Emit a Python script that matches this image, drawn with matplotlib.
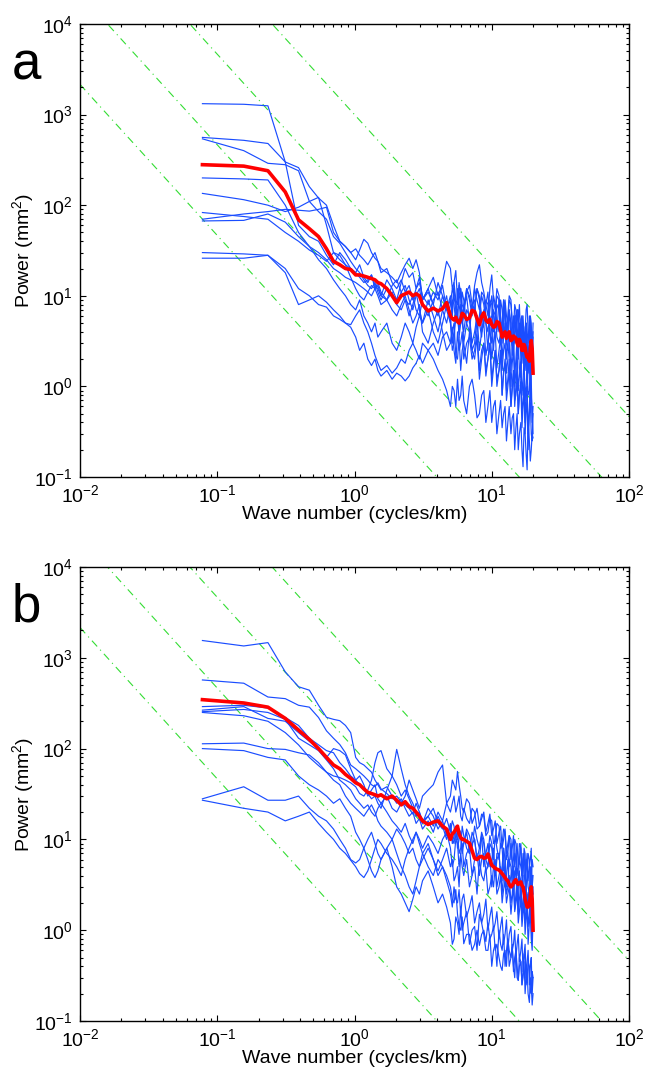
import numpy as np
import matplotlib
matplotlib.use("Agg")
import matplotlib.pyplot as plt

plt.rcParams['font.family'] = ['Liberation Sans', 'DejaVu Sans']
plt.rcParams['mathtext.fontset'] = 'custom'
plt.rcParams['mathtext.rm'] = 'Liberation Sans'
plt.rcParams['mathtext.it'] = 'Liberation Sans:italic'
plt.rcParams['mathtext.bf'] = 'Liberation Sans:bold'

# ---------------- data ----------------
wavenumber = [0.078, 0.156, 0.234, 0.313, 0.391, 0.469, 0.547, 0.625, 0.703, 0.781,
              0.859, 0.938, 1.02, 1.09, 1.17, 1.25, 1.33, 1.41, 1.48, 1.56,
              1.72, 1.88, 2.03, 2.19, 2.34, 2.5, 2.66, 2.81, 2.97, 3.13,
              3.44, 3.75, 4.06, 4.38, 4.69, 5.0, 5.31, 5.63, 5.94, 6.25,
              6.88, 7.5, 8.13, 8.75, 9.38, 10.0, 10.6, 11.3, 11.9, 12.5,
              13.1, 13.8, 14.4, 15.0, 15.6, 16.3, 16.9, 17.5, 18.1, 18.8,
              19.4, 20.0]
# extra high-wavenumber samples (between the points above, k >= 5)
wavenumber_mid = [5.16, 5.47, 5.78, 6.09, 6.56, 7.19, 7.81, 8.44, 9.06, 9.69,
                  10.3, 10.9, 11.6, 12.2, 12.8, 13.4, 14.1, 14.7, 15.3, 15.9,
                  16.6, 17.2, 17.8, 18.4, 19.1, 19.7]

# ---- panel a ----
mean_a = [280, 270, 240, 140, 69, 55, 45, 33, 24, 22,
          20, 19.5, 17, 17, 16.5, 16, 15.5, 15, 14, 13.6,
          12, 10, 8.4, 10, 10.5, 11, 10, 10.5, 10, 8,
          6.8, 7.3, 6.8, 7.2, 8.4, 6, 5.4, 5.2, 5.5, 6.2,
          5.7, 6.7, 4.8, 6.5, 5.1, 4.8, 4.6, 5, 3.5, 4,
          3.8, 3.2, 3.6, 3.4, 2.8, 3, 2.5, 2.7, 2.1, 1.9,
          3.2, 1.4]
mean_a_mid = [5.6, 5.8, 5, 6.4, 5.5, 6.9, 5.6, 5.9, 5.4, 5.5,
              4.5, 5.2, 4.2, 3.8, 3.4, 4, 3.3, 3.5, 3.0, 3.3,
              2.5, 2.9, 2.3, 2.2, 2.6, 2.6]

a1 = [1320, 1300, 1250, 300, 60, 45, 40, 28, 22, 30,
      25, 20, 18, 22, 16, 14, 17, 12, 13, 10,
      15, 12, 9, 14, 20, 16, 18, 12, 16, 9,
      12, 8, 14, 10, 7, 9, 12, 6, 10, 8,
      13, 7, 9, 5, 11, 6, 8, 4, 7, 9,
      5, 3.5, 6, 4, 7, 3, 5, 2.5, 4, 6,
      3, 5]
a1_mid = [6, 8, 14, 5, 11, 8, 12, 4, 8, 5, 10, 5, 9, 4, 6, 7, 2.8, 4.5, 7, 4,
          6, 2.2, 5, 3, 4, 2.5]
a2 = [560, 520, 480, 300, 260, 160, 120, 100, 60, 40,
      35, 30, 33, 28, 25, 22, 26, 30, 24, 18,
      20, 14, 12, 15, 11, 13, 9, 12, 14, 10,
      8, 11, 9, 13, 7, 10, 14, 8, 11, 6,
      9, 12, 7, 10, 5, 8, 6, 9, 4, 7,
      5, 8, 3.5, 6, 4, 5.5, 3, 4.5, 2.5, 4,
      3, 3.5]
a2_mid = [7, 9, 13, 5, 12, 6, 9, 11, 6, 9, 4, 10, 5, 7, 3.5, 9, 5, 3, 7, 3,
          6, 2.5, 5, 2, 4.5, 2.2]
a3 = [540, 400, 290, 280, 240, 110, 85, 70, 45, 38,
      30, 24, 20, 18, 15, 13, 12, 14, 11, 9,
      12, 10, 8, 11, 13, 9, 7, 10, 12, 8,
      6, 9, 11, 7, 5, 8, 10, 6, 12, 7,
      5, 9, 6, 8, 4, 10, 5, 7, 3, 6,
      4, 5, 2.5, 5, 3.5, 2, 4, 2.8, 1.5, 3,
      2, 2.5]
a3_mid = [12, 7, 9, 5, 10, 8, 4, 10, 5, 7, 6, 8, 4, 9, 3, 7, 3, 4, 2.2, 5,
          3, 1.8, 4, 2, 1.4, 3.5]
a4 = [200, 195, 190, 100, 50, 35, 30, 25, 20, 18,
      16, 15, 14, 13, 12, 11, 10, 12, 14, 11,
      9, 13, 15, 11, 9, 8, 10, 7, 6, 9,
      11, 8, 6, 10, 7, 5, 8, 12, 6, 9,
      4, 7, 10, 5, 8, 3, 6, 9, 4, 7,
      2.5, 5, 3, 6, 2, 4, 3, 1.5, 3.5, 2,
      4, 2.5]
a4_mid = [9, 5, 8, 11, 5, 8, 12, 6, 9, 4, 7, 4, 6, 8, 3, 6, 2.2, 6, 3, 4.5,
          1.8, 4, 2.5, 1.4, 5, 1.8]
a5 = [135, 115, 100, 85, 95, 110, 122, 60, 30, 25,
      22, 20, 18, 16, 14, 15, 17, 13, 12, 10,
      9, 11, 8, 7, 9, 6, 8, 11, 7, 5,
      9, 6, 4, 7, 10, 5, 3, 6, 8, 4,
      6, 3, 5, 7, 2.5, 4, 6, 3, 2, 5,
      3, 1.5, 4, 2, 3, 1.2, 2.5, 1.8, 1, 2.2,
      1.5, 2]
a5_mid = [2.5, 7, 4, 5, 7, 2.5, 6, 3.5, 5, 6, 2.5, 3.5, 4, 3.5, 2, 4, 2.5, 1.3, 3.5, 1.6,
          3, 1.4, 2.8, 1.5, 0.7, 2.5]
a6 = [83, 75, 70, 50, 40, 32, 28, 24, 30, 28,
      22, 16, 12, 10, 9, 11, 13, 12, 10, 8,
      9, 7, 6, 8, 10, 7, 5, 6, 8, 4,
      3, 5, 7, 4, 2.5, 3, 5, 2, 1.5, 3,
      4, 2, 1.2, 3, 2, 1, 2.5, 1.5, 0.8, 2,
      1.2, 0.6, 1.5, 1, 0.5, 1.2, 0.7, 0.4, 1, 0.6,
      0.8, 0.3]
a6_mid = [4, 2.2, 3.5, 2.5, 1.8, 2.5, 3.5, 2, 1.3, 3, 1.6, 1, 2.5, 1.4, 0.9, 2, 0.9, 0.6, 1.8, 0.8,
          0.5, 1.3, 0.8, 0.3, 1.1, 0.5]
a7 = [70, 80, 85, 90, 88, 86, 90, 95, 50, 40,
      35, 30, 25, 32, 42, 38, 30, 26, 24, 20,
      18, 16, 14, 18, 22, 26, 20, 25, 18, 9,
      12, 16, 10, 14, 24, 20, 14, 9, 12, 7,
      10, 13, 22, 11, 6, 17, 7, 10, 5, 8,
      6, 9, 4, 7, 5, 3, 6, 4, 8, 3,
      5, 4]
a7_mid = [12, 19, 10, 8, 12, 7, 18, 14, 8, 12, 9, 12, 5, 9, 4, 10, 5, 8, 3, 8,
          4, 3, 7, 4, 6, 2.5]
a8 = [67, 68, 80, 65, 45, 35, 25, 20, 15, 12,
      10, 8, 7, 9, 6, 5, 4, 5, 3.5, 4,
      5, 3, 2.5, 3.5, 5, 4, 3, 4.5, 6, 5,
      7, 4, 3, 5, 8, 6, 4, 7, 5, 3,
      6, 4, 2.5, 5, 3, 2, 4, 2.5, 1.5, 3,
      2, 1, 2.5, 1.5, 0.9, 2, 1.2, 0.7, 1.6, 0.9,
      1.2, 0.6]
a8_mid = [3, 6, 3.5, 7, 5, 3, 6, 4, 2.2, 4.5, 3, 1.6, 3.5, 2.5, 1.4, 3, 1.8, 1, 2.5, 1.3,
          0.8, 2, 1, 0.8, 1.8, 0.4]
a9 = [30, 29, 28, 18, 8, 9, 10, 8.5, 7, 6,
      5, 4.5, 3.5, 2.5, 3, 2, 1.7, 2, 1.5, 1.3,
      1.5, 1.2, 1.4, 1.3, 1.15, 1.3, 1.6, 1.8, 2.2, 1.8,
      2.5, 3, 2.2, 3.5, 4, 3, 2.5, 4, 3, 2,
      3.5, 2.5, 1.5, 3, 2, 1.2, 2.5, 1.5, 0.8, 1.8,
      1, 0.6, 1.4, 0.8, 0.5, 1, 0.6, 0.3, 0.8, 0.5,
      0.3, 0.5]
a9_mid = [4.5, 1.8, 2.5, 4, 3, 2, 4, 2.5, 1.5, 3, 1.8, 1.2, 2.5, 1.5, 0.7, 1.5, 1.1, 0.7, 1.2, 0.8,
          0.35, 0.9, 0.5, 0.2, 0.7, 0.25]
a10 = [26, 26, 28, 20, 12, 10, 8, 7.5, 6, 5.5,
       5, 4.8, 6, 7, 5, 4, 3, 2.2, 1.8, 1.5,
       1.7, 1.4, 1.6, 2, 1.8, 2.5, 3, 2.5, 2, 3,
       2.5, 2, 1.5, 1.2, 0.9, 0.6, 0.9, 1.2, 0.8, 0.7,
       1, 0.8, 0.5, 0.9, 0.6, 0.4, 0.7, 0.5, 0.35, 0.6,
       0.4, 0.3, 0.5, 0.35, 0.2, 0.4, 0.13, 0.3, 0.12, 0.25,
       0.2, 0.27]
a10_mid = [1, 0.6, 0.7, 1.3, 0.5, 1.2, 0.45, 0.8, 0.4, 0.9, 0.6, 0.3, 0.7, 0.5, 0.25, 0.6, 0.45, 0.2, 0.5, 0.3,
           0.2, 0.35, 0.18, 0.4, 0.15, 0.3]

# ---- panel b ----
mean_b = [346, 318, 286, 215, 160, 126, 100, 80, 66, 60,
          52, 47, 42, 40, 36, 33, 32, 31, 30, 31,
          28, 30, 27, 24, 26, 23, 22, 20, 18, 16,
          14.6, 15.5, 16, 14, 13, 10, 12, 14, 10.5, 10,
          9.1, 6.2, 6.4, 6.2, 6.9, 5.2, 4.8, 4.6, 4.2, 3.8,
          3.5, 3, 3.3, 3.6, 3.2, 3.4, 3, 2.2, 1.8, 1.9,
          3, 1.0]
mean_b_mid = [11.5, 13, 11.5, 10, 9.5, 7.5, 6.0, 6.5, 6.3, 6.0,
              5.0, 4.7, 4.4, 4.0, 3.6, 3.2, 3.1, 3.5, 3.3, 3.3,
              3.1, 2.6, 2.0, 1.8, 2.4, 2.2]

b1 = [1550, 1350, 1470, 700, 480, 440, 300, 221, 210, 203,
      180, 150, 80, 70, 66, 60, 55, 45, 40, 35,
      38, 30, 25, 28, 22, 18, 20, 15, 17, 13,
      16, 12, 18, 14, 10, 15, 11, 8, 12, 9,
      7, 10, 8, 5, 9, 6, 4, 7, 5, 3,
      6, 4, 2.5, 5, 3, 2, 4, 2.5, 1.5, 3,
      2, 2.5]
b1_mid = [9, 14, 10, 7, 12, 9, 6, 11, 7, 5, 8, 6, 4, 8, 4, 3, 5, 4, 2.2, 4.5,
          3, 1.8, 3.5, 2.2, 1.6, 3]
b2 = [570, 525, 370, 355, 300, 286, 220, 157, 130, 111,
      90, 66, 60, 55, 50, 45, 40, 38, 42, 36,
      32, 28, 30, 26, 24, 22, 19, 25, 20, 16,
      18, 22, 15, 13, 17, 12, 14, 10, 12, 9,
      11, 14, 8, 10, 7, 9, 11, 6, 8, 5,
      7, 9, 4, 6, 3.5, 5, 7, 3, 4.5, 2.5,
      4, 3]
b2_mid = [16, 10, 13, 8, 13, 8, 10, 12, 6, 11, 6, 8, 9, 4.5, 8, 5, 6, 7, 3, 6,
          4, 4.5, 6, 3, 5, 2]
b3 = [290, 300, 280, 220, 180, 130, 110, 95, 90, 70,
      60, 50, 45, 40, 35, 32, 28, 30, 25, 22,
      35, 50, 98, 60, 40, 30, 25, 20, 18, 15,
      22, 18, 13, 16, 11, 14, 9, 12, 8, 11,
      7, 10, 6, 9, 5, 8, 4, 7, 3.5, 6,
      3, 5, 2.5, 4, 2, 3.5, 1.8, 3, 1.5, 2.5,
      1.2, 2]
b3_mid = [10, 13, 7, 14, 8, 12, 6, 11, 6, 9, 5, 7, 4, 8, 3, 6, 3, 4.5, 2.2, 4,
          2, 3, 1.6, 2.6, 1.3, 2.4]
b4 = [265, 290, 215, 200, 150, 120, 100, 80, 100, 95,
      85, 60, 45, 50, 40, 30, 35, 40, 28, 25,
      30, 22, 20, 25, 30, 45, 35, 28, 22, 30,
      35, 40, 55, 66, 25, 20, 30, 24, 18, 22,
      15, 20, 14, 18, 12, 16, 10, 14, 9, 12,
      7, 10, 6, 9, 5, 8, 4, 7, 3.5, 6,
      4, 5]
b4_mid = [25, 20, 30, 16, 17, 22, 13, 19, 11, 17, 9, 15, 8, 13, 6, 11, 5, 10, 4, 9,
          3.5, 8, 3, 7, 3, 6]
b5 = [255, 270, 250, 210, 130, 110, 95, 75, 60, 45,
      40, 35, 28, 25, 22, 24, 20, 18, 22, 25,
      20, 16, 14, 12, 15, 11, 9, 12, 10, 8,
      11, 9, 7, 10, 12, 8, 6, 9, 7, 5,
      8, 6, 4, 7, 5, 3, 6, 4, 2.5, 5,
      3, 2, 4, 2.5, 1.5, 3, 2, 1.2, 2.5, 1.5,
      1, 1.8]
b5_mid = [5, 10, 5, 9, 7, 4, 7, 6, 4.5, 7, 5, 3, 5, 4, 2.5, 4, 2.5, 1.7, 3.5, 2.2,
          1.3, 2.8, 1.6, 1.1, 2.2, 0.8]
b6 = [250, 230, 200, 150, 110, 80, 65, 55, 50, 48,
      45, 42, 38, 32, 30, 35, 45, 70, 90, 95,
      60, 50, 40, 30, 35, 28, 22, 18, 20, 15,
      18, 14, 20, 16, 25, 30, 40, 56, 30, 20,
      25, 18, 14, 20, 15, 11, 16, 12, 8, 13,
      9, 6, 11, 7, 5, 9, 6, 4, 7, 5,
      8, 4]
b6_mid = [45, 35, 40, 22, 28, 15, 22, 17, 12, 19, 13, 9, 14, 10, 7, 11, 8, 5, 9, 6,
          4, 7, 5, 3.5, 6, 3]
b7 = [113, 115, 100, 98, 90, 85, 70, 55, 45, 40,
      30, 25, 22, 20, 18, 21, 24, 20, 16, 14,
      12, 10, 13, 11, 9, 7, 8, 6, 5, 7,
      9, 6, 4.5, 6, 8, 5, 3.5, 5, 7, 4,
      3, 5, 6, 3.5, 2.5, 4, 5, 3, 2, 3.5,
      2.5, 1.5, 3, 2, 1.2, 2.2, 1.5, 0.9, 1.8, 1.2,
      0.8, 1.4]
b7_mid = [6, 4, 3, 5, 6, 4, 2.5, 4, 5, 3, 3, 2.5, 4, 2.8, 2, 3, 2.2, 1.6, 2.6, 1.6,
          1.1, 2, 1.3, 0.7, 1.6, 0.6]
b8 = [100, 95, 80, 75, 50, 40, 35, 30, 25, 28,
      22, 18, 12, 10, 8, 6, 4.5, 3.8, 4.5, 6,
      8, 5, 3, 2.5, 2, 1.6, 2.2, 3, 2.5, 3.5,
      4.5, 3, 2, 2.5, 1.8, 1.2, 0.8, 1.2, 1.8, 1.2,
      0.7, 1.1, 1.5, 0.9, 0.6, 0.4, 0.7, 1, 0.6, 0.4,
      0.8, 0.5, 0.35, 0.6, 0.28, 0.45, 0.3, 0.2, 0.35, 0.16,
      0.25, 0.2]
b8_mid = [0.7, 1.4, 0.9, 1.0, 1.6, 1.0, 0.6, 1.2, 0.6, 0.9, 0.6, 0.4, 0.7, 0.9, 0.6, 0.4, 0.7, 0.5, 0.3, 0.5,
          0.25, 0.45, 0.3, 0.2, 0.3, 0.15]
b9 = [28, 38, 27, 27, 30, 22, 18, 16, 13, 10,
      8, 6, 5.5, 6, 8, 10, 12, 9, 7, 6,
      8, 10, 7, 5, 4, 3, 2.5, 3.5, 5, 6,
      8, 6, 4, 5, 3.5, 2.5, 3, 2, 1.5, 2.5,
      1.8, 1.2, 2, 1.5, 1, 1.8, 1.2, 0.8, 1.4, 0.9,
      0.6, 1.1, 0.7, 0.5, 0.9, 0.6, 0.35, 0.7, 0.45, 0.25,
      0.5, 0.3]
b9_mid = [1.8, 2.2, 2.8, 2.2, 1.4, 2.4, 1.6, 1.2, 2.2, 1.4, 1.0, 1.6, 1.1, 0.7, 1.3, 0.9, 0.6, 1.0, 0.7, 0.45,
          0.8, 0.55, 0.3, 0.6, 0.4, 0.2]
b10 = [27, 22, 20, 16, 18, 20, 15, 12, 10, 8,
       7, 5.9, 5, 4.2, 3.8, 4.5, 6, 8, 10, 9,
       7, 6, 5, 4, 6, 8, 10, 12, 9, 7,
       5, 4, 6, 5, 4, 3, 2, 1.5, 1, 0.71,
       0.9, 0.7, 0.68, 1, 1.2, 0.9, 0.6, 0.5, 0.36, 0.6,
       0.8, 0.5, 0.4, 0.6, 0.28, 0.45, 0.35, 0.5, 0.3, 0.4,
       0.2, 0.3]
b10_mid = [2.2, 2.8, 1.1, 1.4, 0.9, 0.6, 1.0, 0.9, 0.75, 0.8, 1.1, 0.7, 0.4, 0.55, 0.4, 0.6, 0.65, 0.3, 0.4, 0.4,
           0.25, 0.55, 0.25, 0.45, 0.22, 0.35]

# reference lines P = C * k^(-5/3)
ref_coeffs = [1, 10, 100, 1000]
ref_slope = -5.0 / 3.0

panels = [
    ("a",
     [(a1, a1_mid), (a2, a2_mid), (a3, a3_mid), (a4, a4_mid), (a5, a5_mid),
      (a6, a6_mid), (a7, a7_mid), (a8, a8_mid), (a9, a9_mid), (a10, a10_mid)],
     (mean_a, mean_a_mid)),
    ("b",
     [(b1, b1_mid), (b2, b2_mid), (b3, b3_mid), (b4, b4_mid), (b5, b5_mid),
      (b6, b6_mid), (b7, b7_mid), (b8, b8_mid), (b9, b9_mid), (b10, b10_mid)],
     (mean_b, mean_b_mid)),
]

k_all = np.array(wavenumber + wavenumber_mid)
order = np.argsort(k_all)
k_sorted = k_all[order]


def merged(main, mid):
    if len(main) != len(wavenumber) or len(mid) != len(wavenumber_mid):
        raise ValueError(f"length mismatch: {len(main)} / {len(mid)}")
    return np.array(list(main) + list(mid))[order]


# ---------------- figure ----------------
W, H = 645, 1071
fig = plt.figure(figsize=(W / 100, H / 100), dpi=100)
fig.patch.set_facecolor('white')

axes_px = [(80, 24, 549, 453), (80, 567, 549, 454)]
blue = '#1a4dff'
green = '#33dd33'
red = '#ff0000'

for (letter, lines, mean), (x0, y0, w, h) in zip(panels, axes_px):
    ax = fig.add_axes([x0 / W, 1 - (y0 + h) / H, w / W, h / H])
    ax.set_xscale('log')
    ax.set_yscale('log')
    ax.set_xlim(1e-2, 1e2)
    ax.set_ylim(1e-1, 1e4)
    kk = np.array([1e-2, 1e2])
    for c in ref_coeffs:
        ax.plot(kk, c * kk ** ref_slope, color=green, lw=0.8,
                dashes=(7, 4, 1, 4), zorder=1)
    for main, mid in lines:
        ax.plot(k_sorted, merged(main, mid), color=blue, lw=0.85, zorder=2)
    ax.plot(k_sorted, merged(*mean), color=red, lw=2.6, zorder=3,
            solid_joinstyle='round')

    ax.tick_params(which='both', direction='in', top=True, right=True,
                   labelsize=14, width=0.8, colors='black')
    ax.tick_params(axis='x', which='both', pad=5)
    ax.tick_params(axis='y', which='both', pad=5)
    ax.tick_params(which='major', length=4.5)
    ax.tick_params(which='minor', length=2.5)
    ax.xaxis.set_minor_locator(matplotlib.ticker.LogLocator(base=10, subs=np.arange(2, 10)))
    ax.yaxis.set_minor_locator(matplotlib.ticker.LogLocator(base=10, subs=np.arange(2, 10)))
    for sp in ax.spines.values():
        sp.set_linewidth(1.0)
    ax.set_xlabel('Wave number (cycles/km)', fontsize=14, labelpad=0)
    ax.set_ylabel('Power (mm$^2$)', fontsize=14, labelpad=-1)
    fig.text(12 / W, 1 - (y0 + 55) / H, letter, fontsize=38, ha='left', va='baseline')

fig.savefig('out.png', dpi=100, facecolor='white')
